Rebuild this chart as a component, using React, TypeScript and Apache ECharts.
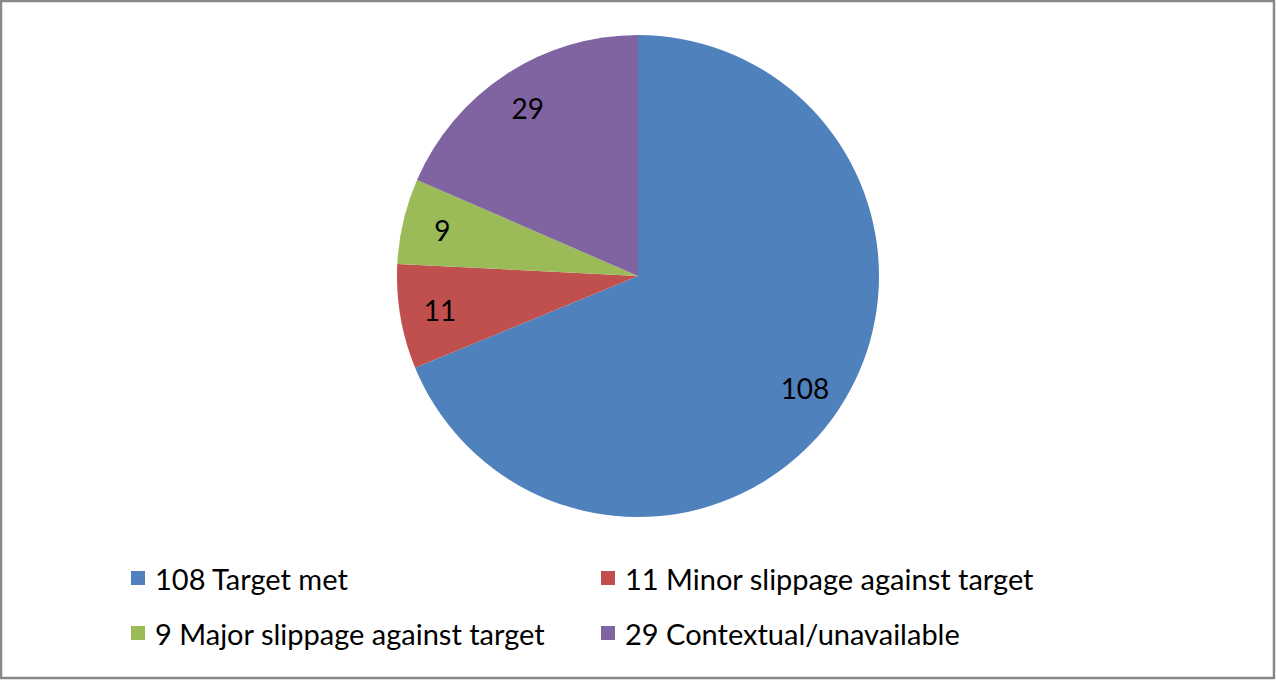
import React, { useEffect, useRef } from "react";
import * as echarts from "echarts";

const categories = ["Target met", "Minor slippage against target", "Major slippage against target", "Contextual/unavailable"];
const values = [108, 11, 9, 29];
const colors = ["#4F81BD", "#C0504D", "#9BBB59", "#8064A2"];

const FONT = "Lato";

export default function App() {
  const ref = useRef<HTMLDivElement>(null);
  useEffect(() => {
    document.body.style.margin = "0";
    const chart = echarts.init(ref.current!, null, { renderer: "svg" });
    const names = categories.map((c, i) => `${values[i]} ${c}`);
    const data = names.map((n, i) => ({ name: n, value: values[i], itemStyle: { color: colors[i] } }));
    const legendPos = [
      { left: 131, top: 562 },
      { left: 601, top: 562 },
      { left: 131, top: 617 },
      { left: 601, top: 617 },
    ];
    chart.setOption({
      animation: false,
      backgroundColor: "#fff",
      legend: names.map((n, i) => ({
        data: [n],
        left: legendPos[i].left,
        top: legendPos[i].top,
        padding: 0,
        icon: "rect",
        itemWidth: 14,
        itemHeight: 14,
        selectedMode: false,
        textStyle: { fontFamily: FONT, fontSize: 29, color: "#000", lineHeight: 32, padding: [0, 0, 0, 5] },
      })),
      graphic: [
        {
          type: "rect",
          shape: { x: 1, y: 1, width: 1273, height: 677 },
          style: { fill: "none", stroke: "#888888", lineWidth: 2.5 },
          silent: true,
        },
      ],
      series: [
        {
          type: "pie",
          center: [638, 276],
          radius: [0, 241],
          startAngle: 90,
          clockwise: true,
          label: { show: false },
          labelLine: { show: false },
          emphasis: { disabled: true },
          itemStyle: { borderWidth: 0 },
          data,
        },
        {
          type: "pie",
          center: [638, 276],
          radius: [155, 241],
          startAngle: 90,
          clockwise: true,
          silent: true,
          legendHoverLink: false,
          label: {
            show: true,
            position: "inside",
            formatter: "{c}",
            fontFamily: FONT,
            fontSize: 28,
            color: "#000",
          },
          labelLine: { show: false },
          emphasis: { disabled: true },
          itemStyle: { color: "transparent", borderWidth: 0 },
          data: names.map((n, i) => ({ name: n, value: values[i], itemStyle: { color: "rgba(0,0,0,0)" } })),
        },
      ],
    });
    return () => chart.dispose();
  }, []);
  return <div ref={ref} style={{ width: 1276, height: 680 }} />;
}
